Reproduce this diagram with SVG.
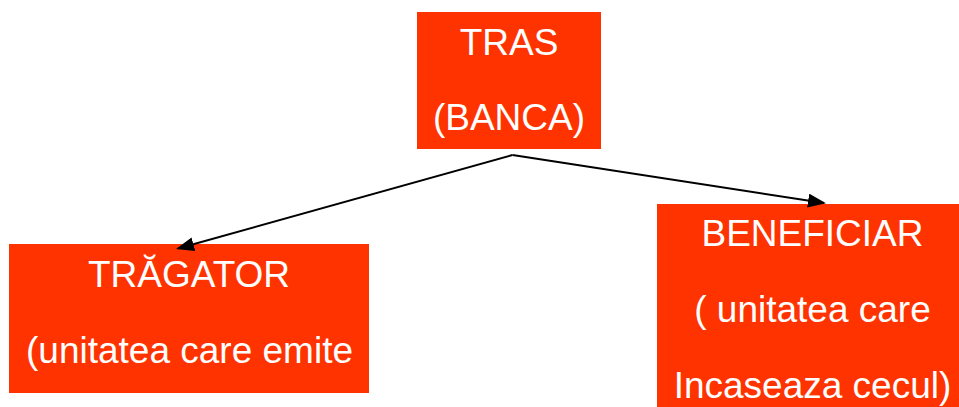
<svg xmlns="http://www.w3.org/2000/svg" width="959" height="407" viewBox="0 0 959 407">
<style>
.box{fill:#FF3300}
.t{font-family:"Liberation Sans",Arial,sans-serif;font-size:37px;fill:#FFFFFF;text-anchor:middle}
.c{stroke:#000;stroke-width:2;fill:none}
</style>
<defs>
<marker id="ah" markerWidth="9" markerHeight="7" refX="8" refY="3.5" orient="auto" markerUnits="strokeWidth">
<path d="M0,0 L9,3.5 L0,7 Z" fill="#000"/>
</marker>
</defs>
<rect width="959" height="407" fill="#FFFFFF"/>
<g id="tras">
<rect class="box" x="417" y="12" width="184" height="137"/>
<text class="t" x="509" y="55">TRAS</text>
<text class="t" x="509" y="130">(BANCA)</text>
</g>
<g id="tragator">
<rect class="box" x="9" y="244" width="360" height="149"/>
<text class="t" x="189" y="287">TRĂGATOR</text>
<text class="t" x="189.5" y="363">(unitatea care emite</text>
</g>
<g id="beneficiar">
<rect class="box" x="657" y="204" width="311" height="210"/>
<text class="t" x="812.5" y="246">BENEFICIAR</text>
<text class="t" x="812.5" y="322">( unitatea care</text>
<text class="t" x="812.5" y="398">Incaseaza cecul)</text>
</g>
<g id="connectors">
<polyline class="c" points="512.5,155 178,248.5" marker-end="url(#ah)"/>
<polyline class="c" points="512.5,155 824,203" marker-end="url(#ah)"/>
</g>
</svg>
